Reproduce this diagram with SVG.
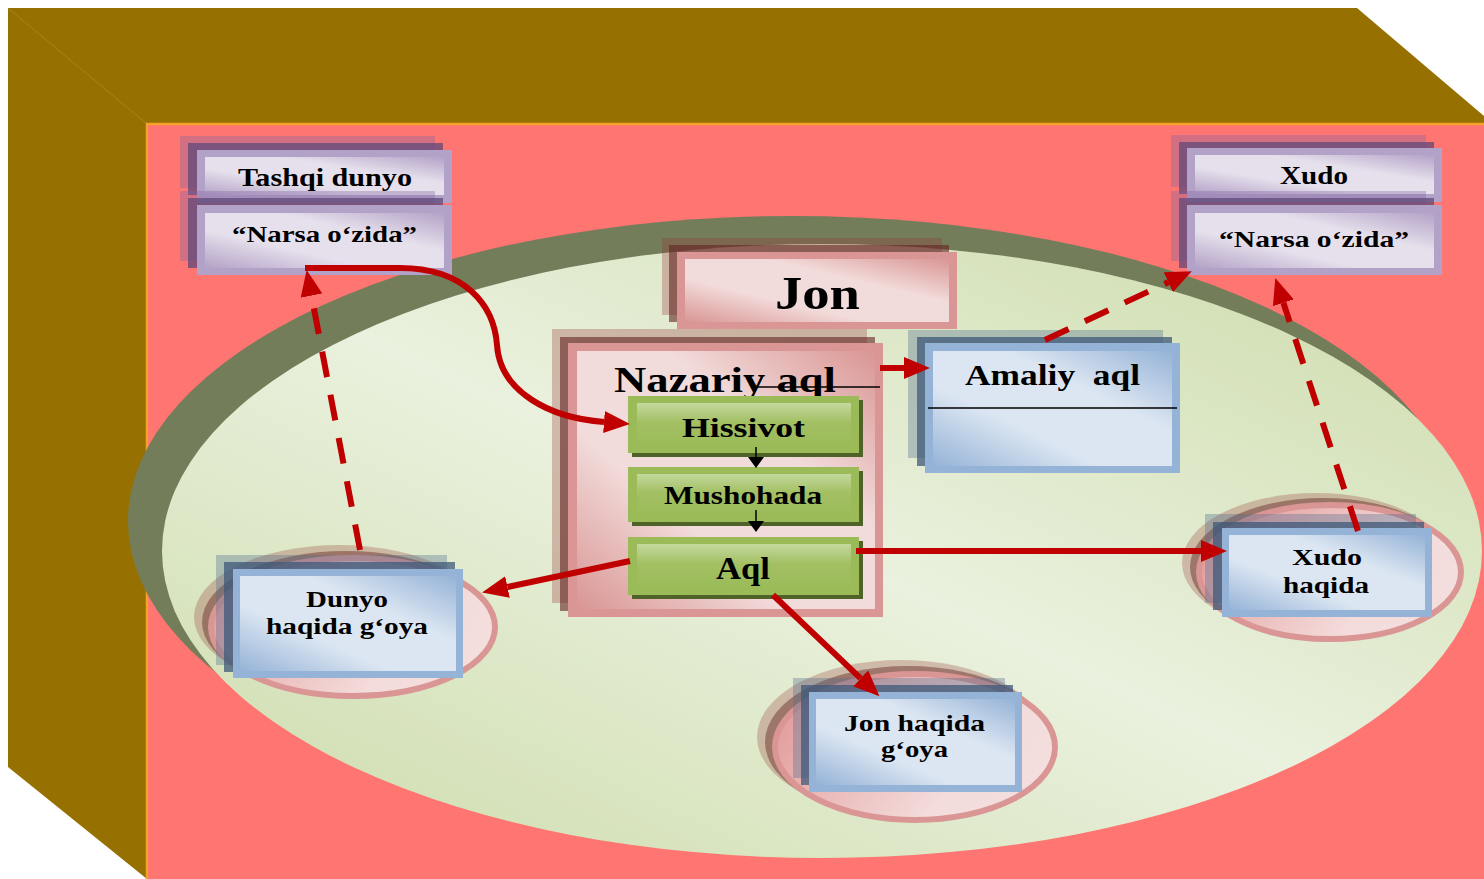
<svg xmlns="http://www.w3.org/2000/svg" width="1484" height="879" viewBox="0 0 1484 879">
<defs>
<style>
.t{font-family:"Liberation Serif","Times New Roman",serif;font-weight:bold;fill:#000}
.c{fill:none;stroke:#C00000;stroke-width:6}
.d{fill:none;stroke:#C00000;stroke-width:6;stroke-dasharray:26 18}
.ps1{fill:#8064A2;opacity:.35}
.ps2{fill:#5F497A;opacity:.75}
.pf{fill:#B3A2C7}
.pi{fill:url(#gPur)}
.bs1{fill:#4F6D8F;opacity:.35}
.bs2{fill:#3F5A7A;opacity:.75}
.bf{fill:#95B3D7}
.bi{fill:url(#gBlue)}
.rs1{fill:#943634;opacity:.3}
.rs2{fill:#632523;opacity:.6}
.rf{fill:#D99694}
.ri{fill:url(#gPink)}
.es1{fill:#943634;opacity:.28}
.es2{fill:#632523;opacity:.45}
.ef{fill:url(#gEll);stroke:#D99694;stroke-width:6}
.gs{fill:#4F6228}
.gf{fill:#9BBB59}
.gi{fill:url(#gGreen)}
</style>
<linearGradient id="gPur" x1="0" y1="1" x2="1" y2="0">
<stop offset="0" stop-color="#B3A2C7"/><stop offset="0.35" stop-color="#E6E0EC"/><stop offset="0.65" stop-color="#E6E0EC"/><stop offset="1" stop-color="#B3A2C7"/>
</linearGradient>
<linearGradient id="gBlue" x1="0" y1="1" x2="1" y2="0">
<stop offset="0" stop-color="#95B3D7"/><stop offset="0.35" stop-color="#DCE6F2"/><stop offset="0.65" stop-color="#DCE6F2"/><stop offset="1" stop-color="#95B3D7"/>
</linearGradient>
<linearGradient id="gPink" x1="0" y1="1" x2="1" y2="0">
<stop offset="0" stop-color="#D99694"/><stop offset="0.35" stop-color="#F2DCDB"/><stop offset="0.65" stop-color="#F2DCDB"/><stop offset="1" stop-color="#D99694"/>
</linearGradient>
<linearGradient id="gEll" x1="0" y1="0.3" x2="1" y2="0.7">
<stop offset="0" stop-color="#E29C9B"/><stop offset="0.7" stop-color="#F3DCDB"/><stop offset="1" stop-color="#F4DFDE"/>
</linearGradient>
<linearGradient id="gGreen" x1="0" y1="0" x2="0" y2="1">
<stop offset="0" stop-color="#C4D89E"/><stop offset="0.45" stop-color="#A3C063"/><stop offset="1" stop-color="#9BBB59"/>
</linearGradient>
<linearGradient id="gBig" x1="0" y1="1" x2="1" y2="0">
<stop offset="0" stop-color="#CCDBA9"/><stop offset="0.5" stop-color="#EAF1DE"/><stop offset="1" stop-color="#CCDBA9"/>
</linearGradient>
<marker id="ah" markerUnits="userSpaceOnUse" markerWidth="26" markerHeight="22" refX="0" refY="11" orient="auto">
<path d="M0,0 L26,11 L0,22 z" fill="#C00000"/>
</marker>
</defs>

<g id="background">
<rect x="0" y="0" width="1484" height="879" fill="#FFFFFF"/>
<polygon points="8,8 1357,8 1484,116 1484,124 147,124 147,879 8,767" fill="#967000"/>
<line x1="8" y1="8" x2="147" y2="124" stroke="#A8841E" stroke-width="1"/>
<rect x="147" y="124" width="1337" height="755" fill="#FF7571"/>
<polyline points="147,879 147,124 1484,124" fill="none" stroke="#F7A12C" stroke-width="2.5"/>
<ellipse cx="792" cy="521" rx="664" ry="305" fill="#737D5A"/>
<ellipse cx="822" cy="551" rx="660" ry="307" fill="url(#gBig)"/>
</g>

<g id="tashqi-dunyo">
<rect class="ps1" x="180" y="136" width="255" height="52"/>
<rect class="ps2" x="188" y="143" width="255" height="52"/>
<rect class="pf" x="197" y="150" width="255" height="53"/>
<rect class="pi" x="205" y="157" width="239" height="38"/>
<text class="t" x="238" y="186" font-size="25" textLength="174" lengthAdjust="spacingAndGlyphs">Tashqi dunyo</text>
</g>
<g id="narsa-ozida-1">
<rect class="ps1" x="180" y="191" width="255" height="70"/>
<rect class="ps2" x="188" y="198" width="255" height="70"/>
<rect class="pf" x="197" y="205" width="255" height="70"/>
<rect class="pi" x="205" y="213" width="239" height="55"/>
<text class="t" x="232" y="242" font-size="23" textLength="185" lengthAdjust="spacingAndGlyphs">“Narsa o‘zida”</text>
</g>

<g id="xudo">
<rect class="ps1" x="1171" y="135" width="255" height="52"/>
<rect class="ps2" x="1179" y="142" width="255" height="52"/>
<rect class="pf" x="1187" y="148" width="255" height="54"/>
<rect class="pi" x="1195" y="155" width="239" height="39"/>
<text class="t" x="1280" y="184" font-size="26" textLength="68" lengthAdjust="spacingAndGlyphs">Xudo</text>
</g>
<g id="narsa-ozida-2">
<rect class="ps1" x="1171" y="191" width="255" height="70"/>
<rect class="ps2" x="1179" y="198" width="255" height="70"/>
<rect class="pf" x="1187" y="205" width="255" height="70"/>
<rect class="pi" x="1195" y="213" width="239" height="55"/>
<text class="t" x="1219" y="247" font-size="23" textLength="190" lengthAdjust="spacingAndGlyphs">“Narsa o‘zida”</text>
</g>

<g id="jon">
<rect class="rs1" x="662" y="238" width="280" height="77"/>
<rect class="rs2" x="669" y="245" width="280" height="77"/>
<rect class="rf" x="677" y="252" width="280" height="77"/>
<rect class="ri" x="685" y="259" width="264" height="63"/>
<text class="t" x="775" y="309" font-size="46" textLength="85" lengthAdjust="spacingAndGlyphs">Jon</text>
</g>

<g id="nazariy-aql">
<rect class="rs1" x="552" y="329" width="315" height="274"/>
<rect class="rs2" x="560" y="337" width="315" height="274"/>
<rect class="rf" x="568" y="343" width="315" height="274"/>
<rect class="ri" x="577" y="351" width="298" height="258"/>
<text class="t" x="614" y="392" font-size="36" textLength="222" lengthAdjust="spacingAndGlyphs">Nazariy aql</text>
<line x1="755" y1="387" x2="880" y2="387" stroke="#000" stroke-width="1.5"/>
</g>

<g id="hissivot">
<rect class="gs" x="632" y="400" width="231" height="57"/>
<rect class="gf" x="628" y="396" width="231" height="57"/>
<rect class="gi" x="637" y="403" width="214" height="43"/>
<text class="t" x="682" y="437" font-size="28" textLength="123" lengthAdjust="spacingAndGlyphs">Hissivot</text>
</g>
<g id="mushohada">
<rect class="gs" x="632" y="471" width="231" height="55"/>
<rect class="gf" x="628" y="467" width="231" height="55"/>
<rect class="gi" x="637" y="474" width="214" height="41"/>
<text class="t" x="664" y="504" font-size="26" textLength="158" lengthAdjust="spacingAndGlyphs">Mushohada</text>
</g>
<g id="aql">
<rect class="gs" x="632" y="541" width="231" height="58"/>
<rect class="gf" x="628" y="537" width="231" height="58"/>
<rect class="gi" x="637" y="544" width="214" height="44"/>
<text class="t" x="716" y="579" font-size="31" textLength="54" lengthAdjust="spacingAndGlyphs">Aql</text>
</g>

<g id="amaliy-aql">
<rect class="bs1" x="908" y="330" width="255" height="128"/>
<rect class="bs2" x="917" y="337" width="255" height="129"/>
<rect class="bf" x="925" y="343" width="255" height="130"/>
<rect class="bi" x="933" y="351" width="239" height="115"/>
<text class="t" x="965" y="385" font-size="30" textLength="175" lengthAdjust="spacingAndGlyphs" xml:space="preserve">Amaliy  aql</text>
<line x1="928" y1="408" x2="1177" y2="408" stroke="#000" stroke-width="1.5"/>
</g>

<g id="dunyo-haqida-goya">
<ellipse class="es1" cx="339" cy="617" rx="145" ry="72"/>
<ellipse class="es2" cx="346" cy="622" rx="144" ry="71"/>
<ellipse class="ef" cx="353" cy="627" rx="142" ry="69"/>
<rect class="bs1" x="216" y="555" width="231" height="110"/>
<rect class="bs2" x="224" y="562" width="231" height="110"/>
<rect class="bf" x="233" y="569" width="230" height="109"/>
<rect class="bi" x="240" y="576" width="216" height="95"/>
<text class="t" x="306" y="607" font-size="24" textLength="82" lengthAdjust="spacingAndGlyphs">Dunyo</text>
<text class="t" x="266" y="634" font-size="24" textLength="162" lengthAdjust="spacingAndGlyphs">haqida g‘oya</text>
</g>

<g id="xudo-haqida">
<ellipse class="es1" cx="1316" cy="563" rx="134" ry="70"/>
<ellipse class="es2" cx="1323" cy="567" rx="133" ry="69"/>
<ellipse class="ef" cx="1330" cy="572" rx="131" ry="67"/>
<rect class="bs1" x="1205" y="514" width="211" height="89"/>
<rect class="bs2" x="1213" y="522" width="211" height="88"/>
<rect class="bf" x="1222" y="528" width="210" height="89"/>
<rect class="bi" x="1229" y="535" width="196" height="75"/>
<text class="t" x="1292" y="565" font-size="24" textLength="70" lengthAdjust="spacingAndGlyphs">Xudo</text>
<text class="t" x="1283" y="593" font-size="24" textLength="86" lengthAdjust="spacingAndGlyphs">haqida</text>
</g>

<g id="jon-haqida-goya">
<ellipse class="es1" cx="901" cy="737" rx="144" ry="77"/>
<ellipse class="es2" cx="908" cy="742" rx="143" ry="76"/>
<ellipse class="ef" cx="915" cy="747" rx="140" ry="73"/>
<rect class="bs1" x="793" y="678" width="212" height="100"/>
<rect class="bs2" x="801" y="685" width="212" height="100"/>
<rect class="bf" x="809" y="692" width="213" height="100"/>
<rect class="bi" x="816" y="699" width="199" height="86"/>
<text class="t" x="844" y="731" font-size="24" textLength="141" lengthAdjust="spacingAndGlyphs">Jon haqida</text>
<text class="t" x="881" y="757" font-size="24" textLength="67" lengthAdjust="spacingAndGlyphs">g‘oya</text>
</g>

<g id="connectors">
<path class="c" d="M305,268 L400,268 C465,268 494,305 497,345 C500,392 550,418 604,422" marker-end="url(#ah)"/>
<line class="d" x1="360" y1="550" x2="311.5" y2="295.6" marker-end="url(#ah)"/>
<line class="c" x1="630" y1="561" x2="507.5" y2="587" marker-end="url(#ah)"/>
<line class="c" x1="856" y1="551" x2="1201" y2="551" marker-end="url(#ah)"/>
<line class="c" x1="773" y1="595" x2="860.6" y2="678.4" marker-end="url(#ah)"/>
<line class="c" x1="880" y1="368" x2="904" y2="368" marker-end="url(#ah)"/>
<line class="d" x1="1045" y1="340" x2="1168.3" y2="282.2" marker-end="url(#ah)"/>
<line class="d" x1="1358" y1="531" x2="1283.4" y2="302.8" marker-end="url(#ah)"/>
<line x1="756" y1="447" x2="756" y2="458" stroke="#000" stroke-width="1.5"/>
<polygon points="748,457 764,457 756,468" fill="#000"/>
<line x1="756" y1="510" x2="756" y2="522" stroke="#000" stroke-width="1.5"/>
<polygon points="748,521 764,521 756,532" fill="#000"/>
</g>
</svg>
